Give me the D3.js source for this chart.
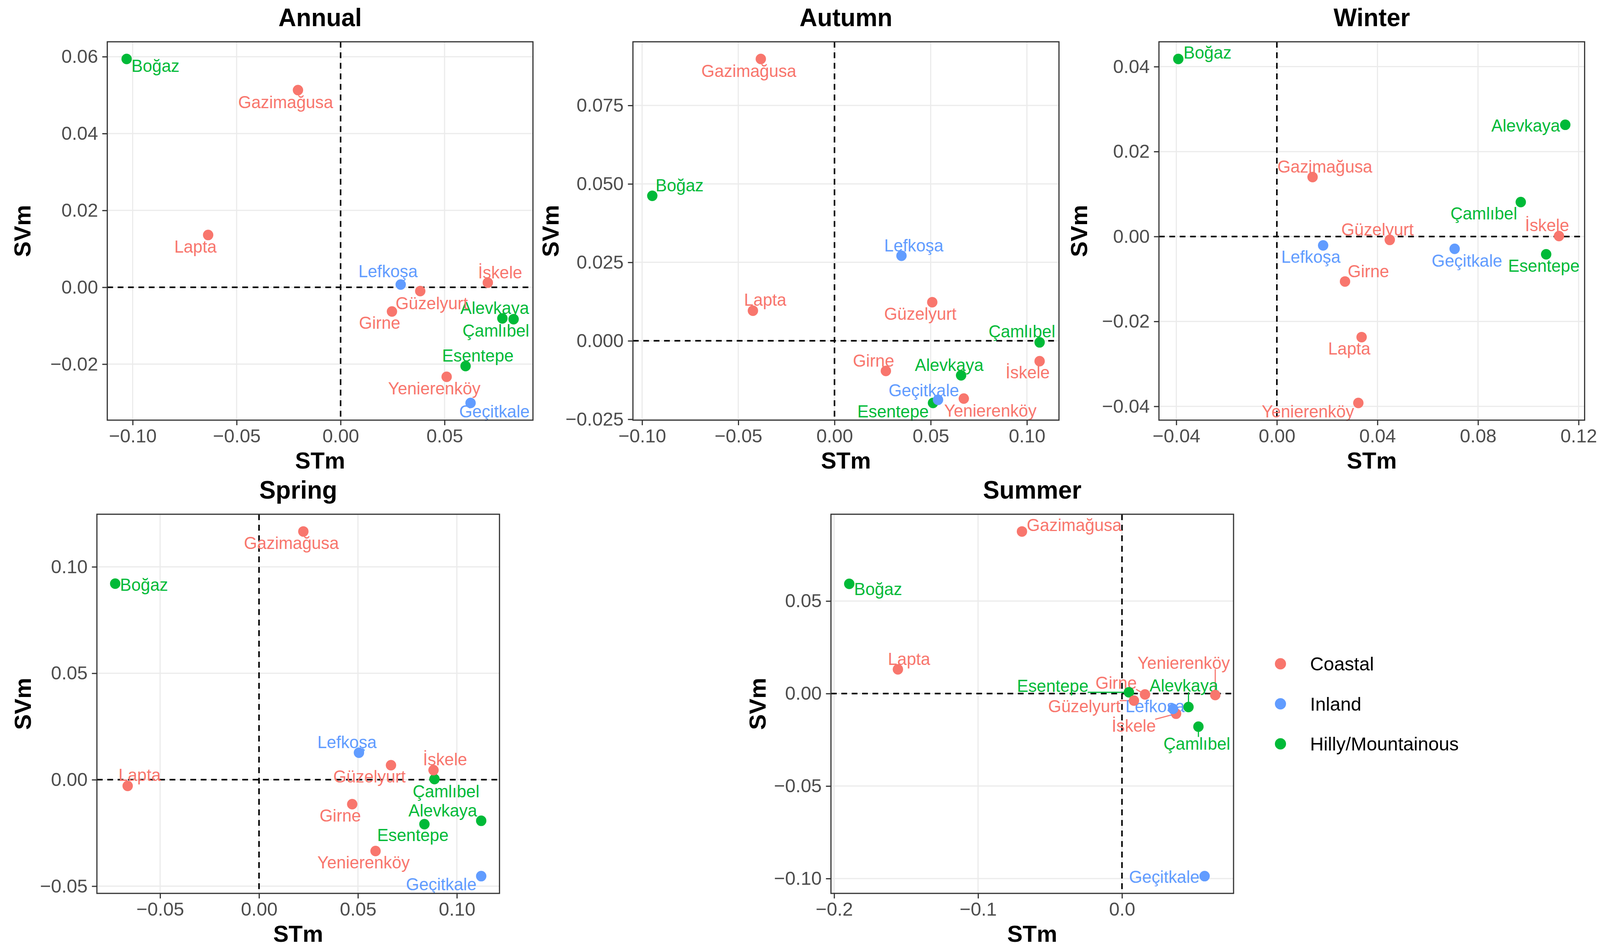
<!DOCTYPE html>
<html>
<head>
<meta charset="utf-8">
<script src="https://cdn.jsdelivr.net/npm/d3@7"></script>
<style>
  html, body { margin: 0; padding: 0; background: #fff; overflow: hidden; }
  svg { display: block; width: 100vw; height: 100vh; }
  text { font-family: "Liberation Sans", Arial, Helvetica, sans-serif; }
</style>
</head>
<body>
<svg id="chart"></svg>
<script>
const W = 4161, H = 2433;

// stations, same order in every season array
const sites = ["Alevkaya", "Boğaz", "Çamlıbel", "Esentepe", "Gazimağusa", "Geçitkale",
               "Girne", "Güzelyurt", "İskele", "Lapta", "Lefkoşa", "Yenierenköy"];
const siteType = ["Hilly/Mountainous", "Hilly/Mountainous", "Hilly/Mountainous", "Hilly/Mountainous",
                  "Coastal", "Inland", "Coastal", "Coastal", "Coastal", "Coastal", "Inland", "Coastal"];
const types = ["Coastal", "Inland", "Hilly/Mountainous"];
const typeColors = ["#F8766D", "#619CFF", "#00BA38"];

// values
const annualSTm = [0.0778, -0.1029, 0.0832, 0.0601, -0.0205, 0.0625, 0.0247, 0.0383, 0.0708, -0.0637, 0.0289, 0.0510];
const annualSVm = [-0.0081, 0.0594, -0.0083, -0.0205, 0.0513, -0.0301, -0.0063, -0.0010, 0.0012, 0.0136, 0.0007, -0.0233];

const autumnSTm = [0.0658, -0.0947, 0.1066, 0.0512, -0.0383, 0.0538, 0.0267, 0.0508, 0.1066, -0.0424, 0.0348, 0.0672];
const autumnSVm = [-0.0110, 0.0462, -0.0005, -0.0198, 0.0898, -0.0188, -0.0096, 0.0123, -0.0065, 0.0096, 0.0271, -0.0184];

const winterSTm = [0.1147, -0.0392, 0.0970, 0.1071, 0.0142, 0.0707, 0.0271, 0.0449, 0.1122, 0.0337, 0.0184, 0.0324];
const winterSVm = [0.0263, 0.0418, 0.0081, -0.0042, 0.0140, -0.0029, -0.0106, -0.0008, 0.0001, -0.0237, -0.0021, -0.0392];

const springSTm = [0.1123, -0.0727, 0.0887, 0.0836, 0.0224, 0.1123, 0.0471, 0.0667, 0.0882, -0.0664, 0.0505, 0.0589];
const springSVm = [-0.0193, 0.0921, 0.0003, -0.0209, 0.1166, -0.0453, -0.0115, 0.0068, 0.0045, -0.0029, 0.0127, -0.0335];

const summerSTm = [0.0462, -0.1895, 0.0531, 0.0048, -0.0695, 0.0574, 0.0160, 0.0083, 0.0376, -0.1557, 0.0355, 0.0648];
const summerSVm = [-0.0073, 0.0593, -0.0179, 0.0007, 0.0876, -0.0987, -0.0005, -0.0038, -0.0109, 0.0131, -0.0083, -0.0008];

// axis breaks
const annualXTicks = [-0.10, -0.05, 0.00, 0.05];
const annualYTicks = [-0.02, 0.00, 0.02, 0.04, 0.06];
const autumnXTicks = [-0.10, -0.05, 0.00, 0.05, 0.10];
const autumnYTicks = [-0.025, 0.000, 0.025, 0.050, 0.075];
const winterXTicks = [-0.04, 0.00, 0.04, 0.08, 0.12];
const winterYTicks = [-0.04, -0.02, 0.00, 0.02, 0.04];
const springXTicks = [-0.05, 0.00, 0.05, 0.10];
const springYTicks = [-0.05, 0.00, 0.05, 0.10];
const summerXTicks = [-0.2, -0.1, 0.0];
const summerYTicks = [-0.10, -0.05, 0.00, 0.05];

// label placement (pixel offsets of label centre from its point), like ggrepel did it
const annualNudge = [[-20,-27],[75,17],[-46,29],[32,-27],[-32,31],[62,21],[-32,29],[30,31],[32,-26],[-33,30],[-33,-34],[-32,29]];
const autumnNudge = [[-31,-27],[71,-27],[-46,-28],[-104,21],[-31,30],[-37,-25],[-32,-27],[-31,29],[-31,28],[32,-28],[32,-27],[69,31]];
const winterNudge = [[-103,2],[76,-17],[-96,29],[-6,29],[32,-27],[32,30],[61,-27],[-32,-27],[-31,-28],[-32,29],[-32,29],[-131,21]];
const springNudge = [[-100,-27],[75,3],[30,31],[-30,28],[-31,29],[-104,21],[-31,29],[-56,29],[30,-28],[31,-28],[-31,-27],[-31,29]];
const summerNudge = [[-12,-55],[75,13],[-4,43],[-198,-16],[136,-17],[-105,2],[-75,-30],[-129,14],[-110,31],[29,-27],[-47,-7],[-82,-83]];

const panels = [
  { title: "Annual", stm: annualSTm, svm: annualSVm, xt: annualXTicks, yt: annualYTicks, xf: ".2f", yf: ".2f",
    box: [279, 107, 1386, 1076], ylabX: 59, nudge: annualNudge },
  { title: "Autumn", stm: autumnSTm, svm: autumnSVm, xt: autumnXTicks, yt: autumnYTicks, xf: ".2f", yf: ".3f",
    box: [1646, 107, 2754, 1076], ylabX: 1432, nudge: autumnNudge },
  { title: "Winter", stm: winterSTm, svm: winterSVm, xt: winterXTicks, yt: winterYTicks, xf: ".2f", yf: ".2f",
    box: [3014, 107, 4121, 1076], ylabX: 2806, nudge: winterNudge },
  { title: "Spring", stm: springSTm, svm: springSVm, xt: springXTicks, yt: springYTicks, xf: ".2f", yf: ".2f",
    box: [252, 1317, 1299, 2288], ylabX: 60, nudge: springNudge },
  { title: "Summer", stm: summerSTm, svm: summerSVm, xt: summerXTicks, yt: summerYTicks, xf: ".1f", yf: ".2f",
    box: [2161, 1317, 3208, 2288], ylabX: 1970, nudge: summerNudge }
];

const colorOf = d3.scaleOrdinal().domain(types).range(typeColors);

// the drawing is laid out on a 4161 x 2433 grid and stretched to whatever the window is
const svg = d3.select("#chart")
  .attr("viewBox", "0 0 " + W + " " + H)
  .attr("preserveAspectRatio", "none");
svg.append("rect").attr("width", W).attr("height", H).attr("fill", "#fff");

// ggplot style 5% padding
function expand(ext) {
  const pad = (ext[1] - ext[0]) * 0.05;
  return [ext[0] - pad, ext[1] + pad];
}

panels.forEach(function (p, pi) {
  const [l, t, r, b] = p.box;
  const x = d3.scaleLinear().domain(expand(d3.extent(p.stm))).range([l, r]);
  const y = d3.scaleLinear().domain(expand(d3.extent(p.svm))).range([b, t]);
  const g = svg.append("g");

  g.append("clipPath").attr("id", "clip" + pi)
    .append("rect").attr("x", l).attr("y", t).attr("width", r - l).attr("height", b - t);
  const inner = g.append("g").attr("clip-path", "url(#clip" + pi + ")");

  // grid
  inner.selectAll(".gx").data(p.xt).enter().append("line")
    .attr("x1", d => x(d)).attr("x2", d => x(d)).attr("y1", t).attr("y2", b)
    .attr("stroke", "#EBEBEB").attr("stroke-width", 3);
  inner.selectAll(".gy").data(p.yt).enter().append("line")
    .attr("x1", l).attr("x2", r).attr("y1", d => y(d)).attr("y2", d => y(d))
    .attr("stroke", "#EBEBEB").attr("stroke-width", 3);

  // zero reference lines
  inner.append("line").attr("x1", x(0)).attr("x2", x(0)).attr("y1", t).attr("y2", b)
    .attr("stroke", "#000").attr("stroke-width", 4).attr("stroke-dasharray", "15,12");
  inner.append("line").attr("x1", l).attr("x2", r).attr("y1", y(0)).attr("y2", y(0))
    .attr("stroke", "#000").attr("stroke-width", 4).attr("stroke-dasharray", "15,12");

  const pts = sites.map((s, i) => ({
    name: s, type: siteType[i], px: x(p.stm[i]), py: y(p.svm[i]),
    lx: x(p.stm[i]) + p.nudge[i][0], ly: y(p.svm[i]) + p.nudge[i][1]
  }));

  const segLayer = g.append("g");
  const labLayer = g.append("g");

  const labels = labLayer.selectAll(".lab").data(pts).enter().append("text")
    .attr("x", d => d.lx).attr("y", d => d.ly)
    .attr("text-anchor", "middle").attr("dominant-baseline", "central")
    .attr("font-size", 44).attr("fill", d => colorOf(d.type))
    .text(d => d.name);

  // leader segments where the label sits far from its point
  labels.each(function (d) {
    const bb = this.getBBox();
    const cx = Math.max(bb.x + 2, Math.min(d.px, bb.x + bb.width - 2));
    const cy = Math.max(bb.y + 8, Math.min(d.py, bb.y + bb.height - 8));
    const dist = Math.hypot(cx - d.px, cy - d.py);
    if (dist > 20) {
      segLayer.append("line")
        .attr("x1", d.px).attr("y1", d.py).attr("x2", cx).attr("y2", cy)
        .attr("stroke", colorOf(d.type)).attr("stroke-width", 3);
    }
  });

  g.append("g").attr("clip-path", "url(#clip" + pi + ")")
    .selectAll(".pt").data(pts).enter().append("circle")
    .attr("cx", d => d.px).attr("cy", d => d.py).attr("r", 13.5)
    .attr("fill", d => colorOf(d.type));

  // panel border
  g.append("rect").attr("x", l).attr("y", t).attr("width", r - l).attr("height", b - t)
    .attr("fill", "none").attr("stroke", "#333").attr("stroke-width", 3);

  // axes
  const xAxis = g.append("g").attr("transform", "translate(0," + b + ")")
    .call(d3.axisBottom(x).tickValues(p.xt).tickFormat(d3.format(p.xf)).tickSize(13).tickPadding(9));
  const yAxis = g.append("g").attr("transform", "translate(" + l + ",0)")
    .call(d3.axisLeft(y).tickValues(p.yt).tickFormat(d3.format(p.yf)).tickSize(13).tickPadding(11));
  [xAxis, yAxis].forEach(function (a) {
    a.select(".domain").remove();
    a.selectAll(".tick line").attr("stroke", "#333").attr("stroke-width", 3);
    a.selectAll(".tick text").attr("fill", "#4D4D4D").attr("font-size", 49)
      .style("font-family", "'Liberation Sans', Arial, sans-serif");
  });

  // titles
  g.append("text").attr("x", (l + r) / 2).attr("y", t - 40)
    .attr("text-anchor", "middle").attr("font-size", 64).attr("font-weight", "bold")
    .text(p.title);
  g.append("text").attr("x", (l + r) / 2).attr("y", b + 124)
    .attr("text-anchor", "middle").attr("font-size", 60).attr("font-weight", "bold")
    .text("STm");
  g.append("text")
    .attr("transform", "translate(" + p.ylabX + "," + ((t + b) / 2) + ") rotate(-90)")
    .attr("text-anchor", "middle").attr("dominant-baseline", "central")
    .attr("font-size", 60).attr("font-weight", "bold")
    .text("SVm");
});

// legend
const legend = svg.append("g").attr("transform", "translate(3330,1700)");
const rows = legend.selectAll(".row").data(types).enter().append("g")
  .attr("transform", (d, i) => "translate(0," + (i * 102.5) + ")");
rows.append("circle").attr("r", 14.5).attr("fill", d => colorOf(d));
rows.append("text").attr("x", 77).attr("dominant-baseline", "central")
  .attr("font-size", 49).attr("fill", "#000").text(d => d);
</script>
</body>
</html>
